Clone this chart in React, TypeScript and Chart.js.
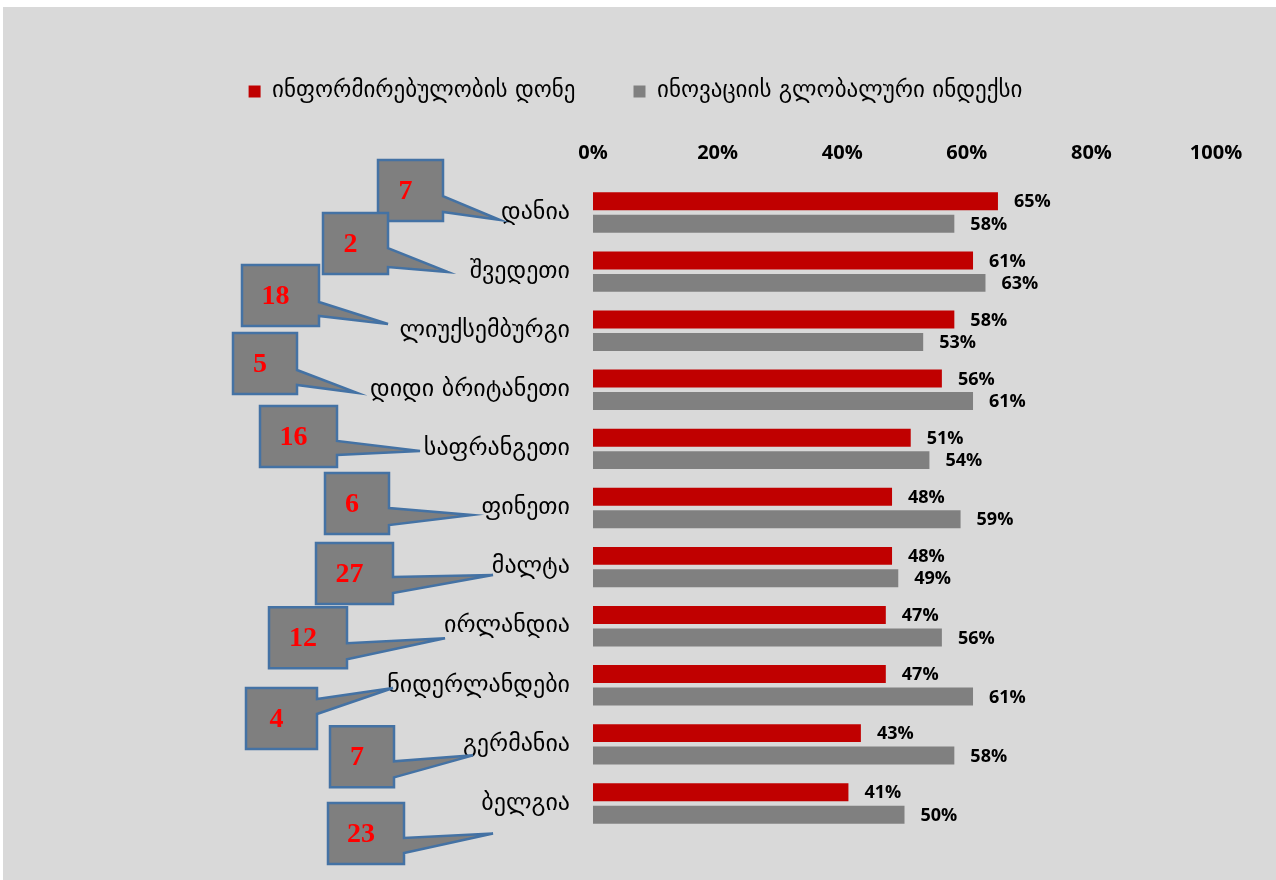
import React, { useEffect, useRef } from "react";
import { Chart, registerables } from "chart.js";

Chart.register(...registerables);

const categories = [
  "დანია",
  "შვედეთი",
  "ლიუქსემბურგი",
  "დიდი ბრიტანეთი",
  "საფრანგეთი",
  "ფინეთი",
  "მალტა",
  "ირლანდია",
  "ნიდერლანდები",
  "გერმანია",
  "ბელგია",
];
const awarenessLevel = [65, 61, 58, 56, 51, 48, 48, 47, 47, 43, 41];
const innovationIndex = [58, 63, 53, 61, 54, 59, 49, 56, 61, 58, 50];
const rankings = [7, 2, 18, 5, 16, 6, 27, 12, 4, 7, 23];
const seriesNames = ["ინფორმირებულობის დონე", "ინოვაციის გლობალური ინდექსი"];
const xTickValues = [0, 20, 40, 60, 80, 100];

// callout layout: [boxLeft, boxTopOffsetFromRowCenter, boxWidth, wedgeStart, wedgeEnd, tipX, tipYOffset]
const calloutLayout: number[][] = [
  [375, -52.5, 65, 36, 52, 497, 7.5],
  [320, -58.6, 65, 35, 54, 445, 0.4],
  [239, -65.7, 77, 37, 51, 385, -6.7],
  [230, -56.8, 64, 37, 52, 354, 3],
  [257, -43, 77, 35, 49, 417, 2],
  [322, -35, 64, 35, 52, 469, 7],
  [313, -24, 77, 34, 50, 490, 8],
  [266, -19, 78, 36, 52, 442, 12],
  [243, 2.7, 71, 11, 26, 390, 2.7],
  [327, -18, 64, 35, 51, 470, 11],
  [325, -0.5, 76, 35, 50, 490, 30],
];
const CALLOUT_H = 61;
const LEGEND_SHIFT = 26;

const GEO_FONT = "'DejaVu Sans', sans-serif";
const NUM_FONT = "'Open Sans', sans-serif";

const legendShiftPlugin = {
  id: "legendShift",
  afterLayout(chart: any) {
    if (chart.legend) {
      chart.legend.left += LEGEND_SHIFT;
      chart.legend.right += LEGEND_SHIFT;
    }
  },
};

const valueLabelPlugin = {
  id: "valueLabels",
  afterDatasetsDraw(chart: any) {
    const ctx = chart.ctx;
    ctx.save();
    ctx.font = `bold 18px ${NUM_FONT}`;
    ctx.fillStyle = "#000";
    ctx.textAlign = "left";
    ctx.textBaseline = "middle";
    chart.data.datasets.forEach((ds: any, di: number) => {
      const meta = chart.getDatasetMeta(di);
      meta.data.forEach((bar: any, i: number) => {
        ctx.fillText(ds.data[i] + "%", bar.x + 16, bar.y + 1);
      });
    });
    ctx.restore();
  },
};

const calloutPlugin = {
  id: "callouts",
  afterDraw(chart: any) {
    const ctx = chart.ctx;
    const yScale = chart.scales.y;
    ctx.save();
    rankings.forEach((rank, i) => {
      const [left, topOff, w, ws, we, tipX, tipOff] = calloutLayout[i];
      const cy = yScale.getPixelForValue(i);
      const top = cy + topOff;
      const right = left + w;
      const bottom = top + CALLOUT_H;
      ctx.beginPath();
      ctx.moveTo(left, top);
      ctx.lineTo(right, top);
      ctx.lineTo(right, top + ws);
      ctx.lineTo(tipX, cy + tipOff);
      ctx.lineTo(right, top + we);
      ctx.lineTo(right, bottom);
      ctx.lineTo(left, bottom);
      ctx.closePath();
      ctx.fillStyle = "#7f7f7f";
      ctx.fill();
      ctx.lineWidth = 2.5;
      ctx.lineJoin = "miter";
      ctx.strokeStyle = "#4472a4";
      ctx.stroke();
      ctx.font = "bold 28px 'Liberation Serif', serif";
      ctx.fillStyle = "#ff0000";
      ctx.textAlign = "center";
      ctx.textBaseline = "middle";
      ctx.fillText(String(rank), left + w / 2 - 5, top + CALLOUT_H / 2 + 1);
    });
    ctx.restore();
  },
};

export default function App() {
  const canvasRef = useRef<HTMLCanvasElement | null>(null);

  useEffect(() => {
    if (!canvasRef.current) return;
    const chart = new Chart(canvasRef.current, {
      type: "bar",
      data: {
        labels: categories,
        datasets: [
          {
            label: seriesNames[0],
            data: awarenessLevel,
            backgroundColor: "#c00000",
            borderWidth: 0,
            categoryPercentage: 0.76,
            barPercentage: 0.8,
          },
          {
            label: seriesNames[1],
            data: innovationIndex,
            backgroundColor: "#808080",
            borderWidth: 0,
            categoryPercentage: 0.76,
            barPercentage: 0.8,
          },
        ],
      },
      options: {
        indexAxis: "y",
        animation: false,
        responsive: false,
        maintainAspectRatio: false,
        layout: { padding: { top: 15, right: 60, left: 0, bottom: 47 } },
        plugins: {
          legend: {
            position: "top",
            labels: {
              boxWidth: 12,
              boxHeight: 12,
              padding: 58,
              color: "#000",
              font: { family: GEO_FONT, size: 23 },
            },
          },
          tooltip: { enabled: false },
          title: { display: false },
        },
        scales: {
          x: {
            position: "top",
            min: 0,
            max: 100,
            afterBuildTicks(scale: any) {
              scale.ticks = xTickValues.map((v) => ({ value: v }));
            },
            afterFit(scale: any) {
              scale.height = 70;
            },
            grid: { display: false, drawTicks: false },
            border: { display: false },
            ticks: {
              padding: 18,
              color: "#000",
              font: { family: NUM_FONT, size: 20, weight: "bold" },
              callback: (v: any) => v + "%",
            },
          },
          y: {
            afterFit(scale: any) {
              scale.width = 590;
            },
            grid: { display: false, drawTicks: false },
            border: { display: false },
            ticks: {
              padding: 23,
              color: "#000",
              font: { family: GEO_FONT, size: 24 },
            },
          },
        },
      },
      plugins: [legendShiftPlugin, valueLabelPlugin, calloutPlugin],
    });
    return () => chart.destroy();
  }, []);

  return (
    <div
      style={{
        position: "fixed",
        left: 3,
        top: 7,
        width: 1273,
        height: 873,
        background: "#d9d9d9",
      }}
    >
      <canvas ref={canvasRef} width={1273} height={873} style={{ display: "block" }} />
    </div>
  );
}
